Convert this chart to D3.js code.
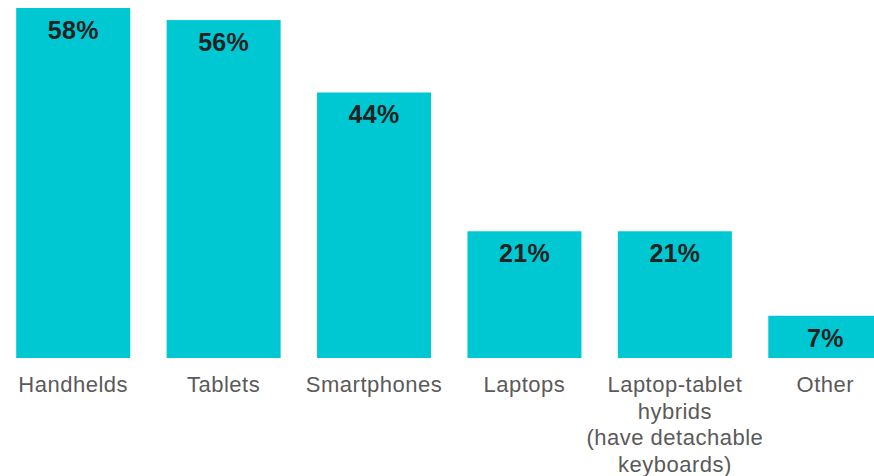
<!DOCTYPE html>
<html>
<head>
<meta charset="utf-8">
<script src="https://cdn.jsdelivr.net/npm/d3@7"></script>
<style>
  body { margin: 0; background: #fff; }
  svg { display: block; }
</style>
</head>
<body>
<div id="chart"></div>
<script>
var categories = ["Handhelds", "Tablets", "Smartphones", "Laptops", "Laptop-tablet hybrids (have detachable keyboards)", "Other"];
var labelLines = [["Handhelds"], ["Tablets"], ["Smartphones"], ["Laptops"], ["Laptop-tablet", "hybrids", "(have detachable", "keyboards)"], ["Other"]];
var values = [58, 56, 44, 21, 21, 7];

var width = 874, height = 476;
var baseY = 358;

var svg = d3.select("#chart").append("svg")
    .attr("width", width)
    .attr("height", height);

// band scale: step ~150.4, bar ~114 wide
var xScale = d3.scaleBand()
    .domain(categories)
    .range([-2, 900.5])
    .paddingInner(0.242)
    .paddingOuter(0.121);

var yScale = d3.scaleLinear()
    .domain([0, 58])
    .range([baseY, 8]);

svg.selectAll("rect.bar")
    .data(values)
    .enter()
    .append("rect")
    .attr("class", "bar")
    .attr("x", function (d, i) { return xScale(categories[i]); })
    .attr("y", function (d) { return yScale(d); })
    .attr("width", xScale.bandwidth())
    .attr("height", function (d) { return baseY - yScale(d); })
    .attr("fill", "#00c8d2");

svg.selectAll("text.value")
    .data(values)
    .enter()
    .append("text")
    .attr("class", "value")
    .attr("x", function (d, i) { return xScale(categories[i]) + xScale.bandwidth() / 2; })
    .attr("y", function (d) { return yScale(d) + 31; })
    .attr("text-anchor", "middle")
    .style("font-family", "'Liberation Sans', Arial, sans-serif")
    .style("font-weight", "bold")
    .style("font-size", "25px")
    .style("letter-spacing", "0.3px")
    .attr("fill", "#222222")
    .text(function (d) { return d + "%"; });

var labels = svg.selectAll("text.label")
    .data(labelLines)
    .enter()
    .append("text")
    .attr("class", "label")
    .attr("x", function (d, i) { return xScale(categories[i]) + xScale.bandwidth() / 2; })
    .attr("y", 392)
    .attr("text-anchor", "middle")
    .style("font-family", "'Liberation Sans', Arial, sans-serif")
    .style("font-size", "22px")
    .style("letter-spacing", "0.5px")
    .attr("fill", "#5a5a5a");

labels.each(function (lines) {
    var t = d3.select(this);
    var x = t.attr("x");
    lines.forEach(function (line, j) {
        t.append("tspan")
            .attr("x", x)
            .attr("dy", j === 0 ? 0 : 26.5)
            .text(line);
    });
});
</script>
</body>
</html>
